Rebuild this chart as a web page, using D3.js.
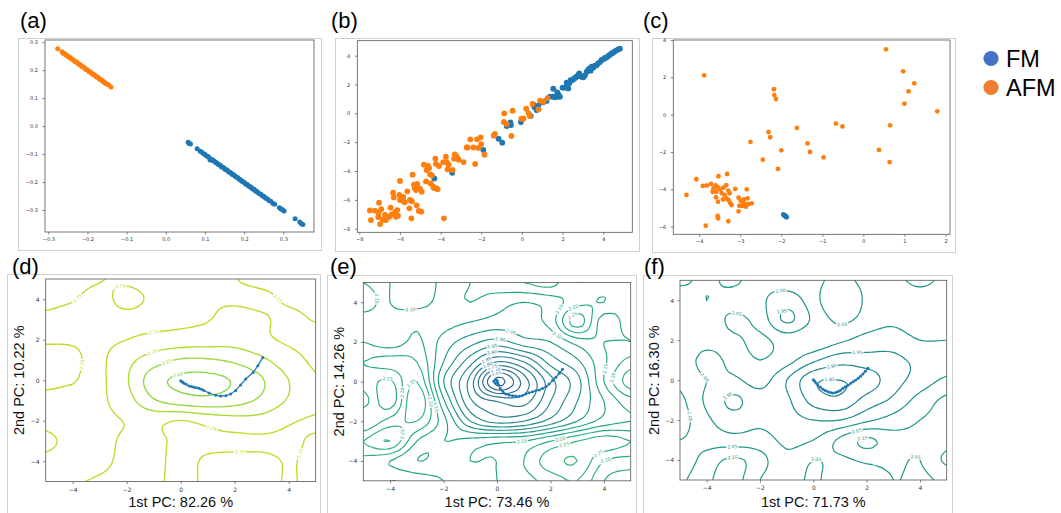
<!DOCTYPE html>
<html>
<head>
<meta charset="utf-8">
<script src="https://cdn.jsdelivr.net/npm/d3@7"></script>
<style>
  body { margin: 0; background: #fff; }
  svg { display: block; }
</style>
</head>
<body>
<div id="chart"></div>
<script>
// ---------- data ----------
var ticksA = [-0.3, -0.2, -0.1, 0.0, 0.1, 0.2, 0.3];
var ticksB = [-8, -6, -4, -2, 0, 2, 4];
var ticksCx = [-4, -3, -2, -1, 0, 1, 2];
var ticksCy = [-6, -4, -2, 0, 2, 4];
var ticksPC = [-4, -2, 0, 2, 4];

var legendNames = ["FM", "AFM"];
var panelNames = ["(a)", "(b)", "(c)", "(d)", "(e)", "(f)"];

var aFM = [[0.057,-0.058],[0.060,-0.062],[0.063,-0.064],[0.080,-0.081],[0.088,-0.090],[0.092,-0.093],[0.097,-0.099],[0.100,-0.101],[0.104,-0.107],[0.108,-0.109],[0.112,-0.115],[0.113,-0.121],[0.115,-0.118],[0.118,-0.122],[0.120,-0.121],[0.124,-0.126],[0.127,-0.130],[0.130,-0.131],[0.133,-0.136],[0.136,-0.138],[0.139,-0.140],[0.142,-0.145],[0.145,-0.147],[0.148,-0.149],[0.151,-0.154],[0.154,-0.156],[0.157,-0.158],[0.160,-0.163],[0.163,-0.165],[0.166,-0.167],[0.169,-0.172],[0.172,-0.174],[0.175,-0.176],[0.178,-0.181],[0.181,-0.183],[0.184,-0.185],[0.187,-0.190],[0.190,-0.191],[0.193,-0.195],[0.196,-0.199],[0.199,-0.200],[0.202,-0.204],[0.205,-0.208],[0.208,-0.209],[0.211,-0.213],[0.214,-0.217],[0.217,-0.218],[0.220,-0.222],[0.223,-0.226],[0.226,-0.227],[0.229,-0.232],[0.232,-0.233],[0.235,-0.237],[0.239,-0.242],[0.243,-0.244],[0.247,-0.250],[0.251,-0.252],[0.255,-0.258],[0.259,-0.260],[0.263,-0.266],[0.268,-0.269],[0.273,-0.276],[0.278,-0.279],[0.290,-0.292],[0.294,-0.296],[0.298,-0.299],[0.302,-0.304],[0.330,-0.331],[0.342,-0.343],[0.346,-0.349],[0.350,-0.352]];
var aAFM = [[-0.276,0.277],[-0.265,0.266],[-0.262,0.261],[-0.259,0.260],[-0.256,0.255],[-0.253,0.254],[-0.250,0.249],[-0.247,0.248],[-0.244,0.245],[-0.241,0.240],[-0.238,0.239],[-0.235,0.236],[-0.232,0.231],[-0.229,0.230],[-0.226,0.227],[-0.223,0.222],[-0.220,0.221],[-0.217,0.218],[-0.214,0.213],[-0.211,0.212],[-0.208,0.209],[-0.205,0.204],[-0.202,0.203],[-0.199,0.200],[-0.196,0.195],[-0.193,0.194],[-0.190,0.191],[-0.187,0.186],[-0.184,0.185],[-0.181,0.182],[-0.178,0.177],[-0.175,0.176],[-0.172,0.173],[-0.169,0.168],[-0.166,0.167],[-0.163,0.164],[-0.160,0.159],[-0.157,0.158],[-0.154,0.153],[-0.150,0.151],[-0.146,0.147],[-0.140,0.140]];

var bAFM = [[-7.48,-6.73],[-7.43,-7.40],[-7.23,-6.75],[-7.03,-6.20],[-7.05,-6.87],[-7.07,-7.19],[-6.98,-7.68],[-6.92,-6.64],[-6.84,-7.38],[-6.74,-7.05],[-6.69,-7.40],[-6.52,-7.17],[-6.46,-6.54],[-6.41,-7.01],[-6.34,-5.50],[-6.30,-5.83],[-6.23,-6.84],[-6.20,-7.17],[-6.13,-6.71],[-6.10,-7.10],[-6.03,-5.66],[-6.00,-4.69],[-6.00,-6.01],[-5.90,-6.01],[-5.84,-5.80],[-5.82,-6.10],[-5.77,-6.17],[-5.64,-5.41],[-5.54,-6.59],[-5.51,-6.01],[-5.44,-7.28],[-5.41,-6.10],[-5.38,-4.25],[-5.31,-4.95],[-5.28,-5.20],[-5.21,-5.32],[-5.18,-6.38],[-5.15,-4.90],[-5.08,-6.77],[-5.02,-5.23],[-4.95,-6.82],[-4.93,-5.43],[-4.82,-3.56],[-4.72,-4.72],[-4.69,-3.93],[-4.62,-3.65],[-4.57,-3.79],[-4.52,-4.23],[-4.49,-4.86],[-4.43,-4.30],[-4.36,-5.09],[-4.33,-5.18],[-4.26,-3.14],[-4.23,-3.51],[-4.20,-5.20],[-4.15,-5.27],[-4.08,-3.65],[-3.87,-3.38],[-3.84,-7.28],[-3.74,-3.01],[-3.70,-3.38],[-3.66,-3.88],[-3.61,-3.56],[-3.41,-3.93],[-3.34,-3.14],[-3.30,-2.84],[-3.21,-3.01],[-3.11,-3.21],[-2.87,-3.38],[-2.72,-2.36],[-2.67,-2.36],[-2.54,-1.80],[-2.39,-2.36],[-2.30,-3.51],[-2.21,-1.80],[-2.15,-2.40],[-2.03,-1.66],[-2.00,-2.13],[-1.84,-2.87],[-1.39,-1.55],[-1.33,-1.43],[-0.87,0.00],[-0.89,-0.60],[-0.75,-0.74],[-0.52,-1.57],[-0.46,0.18],[-0.03,-0.37],[0.08,-0.35],[0.21,0.32],[0.33,0.00],[0.39,-0.18],[0.52,0.65],[0.82,0.28],[0.89,0.88],[1.05,0.79],[1.26,1.06]];
var bFM = [[-4.31,-4.51],[-3.43,-4.12],[-1.90,-2.54],[-1.15,-1.76],[-0.97,-2.03],[-0.75,-0.88],[-0.57,-0.62],[-0.54,-0.81],[-0.05,-0.60],[0.43,-0.18],[0.56,0.62],[0.62,0.42],[0.72,0.23],[0.80,0.53],[1.02,0.76],[1.08,0.83],[1.21,0.86],[1.38,1.16],[1.54,1.71],[1.54,1.16],[1.62,1.11],[1.74,1.46],[1.77,1.16],[1.79,1.32],[1.87,1.16],[2.00,1.78],[2.11,1.78],[2.20,2.13],[2.23,1.97],[2.28,1.73],[2.33,2.08],[2.39,2.31],[2.49,2.31],[2.56,2.40],[2.62,2.47],[2.69,2.54],[2.77,2.66],[2.82,2.77],[2.85,2.59],[2.93,2.54],[3.02,2.50],[3.10,2.64],[3.18,2.87],[3.26,3.01],[3.31,3.10],[3.38,2.96],[3.43,3.24],[3.51,3.17],[3.59,3.31],[3.67,3.33],[3.75,3.47],[3.84,3.56],[3.92,3.70],[4.00,3.75],[4.08,3.84],[4.16,3.88],[4.25,3.98],[4.33,4.07],[4.41,4.16],[4.49,4.21],[4.57,4.30],[4.66,4.37],[4.74,4.44],[4.82,4.49]];

var cAFM = [[0.55,3.50],[-3.88,2.11],[-2.18,1.36],[-2.17,1.05],[-2.13,0.84],[0.97,2.32],[1.24,1.68],[1.10,1.25],[1.00,0.59],[1.80,0.18],[-0.67,-0.48],[-0.51,-0.63],[0.65,-0.57],[-1.62,-0.71],[-2.31,-0.93],[-2.27,-1.21],[-2.75,-1.46],[-1.36,-1.54],[-1.30,-2.00],[-2.00,-1.91],[-0.97,-2.29],[0.38,-1.89],[0.64,-2.54],[-2.45,-2.41],[-2.08,-2.91],[-3.32,-3.18],[-3.53,-3.30],[-4.07,-3.46],[-4.31,-4.30],[-3.91,-3.82],[-3.81,-3.79],[-3.71,-3.71],[-3.60,-3.79],[-3.55,-3.88],[-3.65,-3.95],[-3.67,-4.13],[-3.58,-4.13],[-3.49,-4.00],[-3.41,-3.91],[-3.34,-3.77],[-3.45,-4.21],[-3.38,-4.30],[-3.29,-4.07],[-3.26,-4.21],[-3.59,-4.43],[-3.54,-4.66],[-3.42,-4.54],[-3.34,-4.48],[-3.29,-4.57],[-3.25,-4.71],[-3.21,-4.84],[-3.12,-3.98],[-3.04,-4.45],[-2.99,-4.61],[-3.02,-4.88],[-3.04,-5.18],[-2.96,-4.89],[-2.93,-4.71],[-2.91,-4.54],[-2.88,-4.79],[-2.86,-4.93],[-2.84,-4.00],[-2.82,-4.48],[-2.79,-4.79],[-2.72,-4.75],[-3.55,-5.43],[-3.54,-5.55],[-3.84,-5.95],[-3.29,-5.71]];
var cFM = [[-1.95,-5.35],[-1.93,-5.40],[-1.92,-5.38],[-1.91,-5.42],[-1.90,-5.45],[-1.89,-5.44],[-1.88,-5.47],[-1.87,-5.50]];

// loss landscapes: rows run from y = 5 (top) to y = -5, columns x = -5 .. 5
var gridX = [-5, -4, -3, -2, -1, 0, 1, 2, 3, 4, 5];
var gridY = [5, 4, 3, 2, 1, 0, -1, -2, -3, -4, -5];

var dLevels = [2.60, 2.65, 2.70, 2.75];
var dLoss = [
  [2.735,2.738,2.748,2.757,2.765,2.768,2.762,2.751,2.742,2.736,2.733],
  [2.742,2.748,2.762,2.738,2.757,2.758,2.753,2.755,2.757,2.745,2.738],
  [2.755,2.762,2.766,2.762,2.765,2.758,2.752,2.735,2.745,2.758,2.748],
  [2.752,2.753,2.758,2.750,2.735,2.730,2.725,2.720,2.740,2.757,2.762],
  [2.742,2.744,2.757,2.715,2.675,2.645,2.645,2.660,2.690,2.730,2.758],
  [2.745,2.748,2.758,2.705,2.620,2.590,2.585,2.605,2.645,2.700,2.745],
  [2.755,2.760,2.758,2.720,2.655,2.625,2.615,2.630,2.660,2.705,2.735],
  [2.756,2.762,2.760,2.748,2.738,2.752,2.735,2.720,2.720,2.745,2.755],
  [2.745,2.757,2.758,2.745,2.742,2.758,2.757,2.760,2.758,2.757,2.745],
  [2.755,2.760,2.755,2.745,2.743,2.758,2.745,2.738,2.740,2.752,2.742],
  [2.757,2.752,2.748,2.745,2.745,2.757,2.745,2.738,2.740,2.752,2.742]
];
var dPath = [[0,-0.02],[0.04,-0.07],[0.08,-0.10],[0.12,-0.15],[0.20,-0.20],[0.31,-0.28],[0.40,-0.31],[0.49,-0.34],[0.58,-0.37],[0.68,-0.40],[0.77,-0.45],[0.86,-0.51],[1.05,-0.63],[1.30,-0.74],[1.48,-0.78],[1.67,-0.76],[1.85,-0.68],[2.04,-0.50],[2.22,-0.23],[2.41,0.06],[2.68,0.38],[2.86,0.72],[3.04,1.12]];

var eLevels = [1.60, 1.65, 1.70, 1.75, 1.80, 1.85, 1.90, 1.95, 2.00, 2.05, 2.10, 2.15, 2.20, 2.25, 2.30];
var eLoss = [
  [2.15,2.10,2.05,2.12,2.15,2.18,2.20,2.22,2.15,2.18,2.20],
  [2.20,2.10,2.08,2.12,2.15,2.12,2.10,2.12,2.18,2.20,2.15],
  [2.10,2.12,2.14,2.12,2.10,2.08,2.08,2.12,2.28,2.12,2.18],
  [2.15,2.12,2.16,2.08,2.02,1.98,2.03,2.05,2.12,2.15,2.15],
  [2.20,2.22,2.20,2.05,1.92,1.80,1.85,1.97,2.04,2.14,2.22],
  [2.18,2.14,2.25,2.00,1.83,1.58,1.72,1.88,1.98,2.15,2.28],
  [2.22,2.12,2.30,2.06,1.86,1.80,1.78,1.90,2.00,2.10,2.18],
  [2.15,2.22,2.25,2.12,1.95,1.88,1.90,1.97,2.05,2.12,2.15],
  [2.25,2.30,2.15,2.10,2.12,2.14,2.15,2.20,2.25,2.28,2.25],
  [2.18,2.15,2.10,2.12,2.15,2.15,2.20,2.28,2.30,2.20,2.18],
  [2.15,2.20,2.18,2.15,2.12,2.15,2.18,2.22,2.25,2.15,2.12]
];
var ePath = [[-0.05,0.10],[-0.12,0.02],[-0.06,-0.08],[0.02,-0.05],[0.00,0.05],[0.05,-0.15],[0.12,-0.35],[0.22,-0.50],[0.33,-0.62],[0.45,-0.68],[0.58,-0.71],[0.70,-0.73],[0.83,-0.74],[0.95,-0.70],[1.08,-0.62],[1.20,-0.56],[1.33,-0.51],[1.45,-0.46],[1.58,-0.42],[1.70,-0.35],[1.83,-0.26],[1.95,-0.12],[2.08,0.05],[2.20,0.22],[2.33,0.42],[2.45,0.62]];

var fLevels = [1.85, 1.90, 1.95, 2.00, 2.05, 2.10];
var fLoss = [
  [2.06,2.04,2.06,2.02,2.03,2.04,2.06,2.04,2.04,2.06,2.04],
  [2.02,2.05,2.03,2.01,1.97,2.03,2.10,2.04,2.01,2.03,2.01],
  [2.03,2.02,2.06,2.03,1.94,2.01,2.06,2.03,2.01,2.04,2.02],
  [2.05,2.02,2.04,2.06,2.03,2.04,2.01,1.98,1.97,2.00,2.00],
  [2.04,1.98,2.02,2.05,2.02,1.96,1.92,1.93,1.94,1.96,1.97],
  [2.04,2.00,1.99,2.02,1.95,1.86,1.85,1.87,1.93,1.97,2.01],
  [2.06,1.99,1.94,1.98,1.96,1.88,1.86,1.92,1.96,2.02,2.06],
  [2.07,2.01,1.97,1.99,1.97,1.95,1.95,1.99,2.02,2.05,2.06],
  [2.05,2.03,2.02,2.02,1.99,2.00,2.06,2.11,2.07,2.06,2.08],
  [2.02,2.07,2.11,2.07,2.01,2.05,2.04,2.06,2.06,2.05,2.11],
  [2.04,2.09,2.12,2.05,2.02,2.06,2.01,2.01,2.05,2.04,2.06]
];
var fPath = [[0.00,0.02],[0.05,-0.06],[0.10,-0.14],[0.17,-0.25],[0.26,-0.36],[0.36,-0.45],[0.45,-0.52],[0.55,-0.58],[0.65,-0.62],[0.74,-0.64],[0.84,-0.62],[0.93,-0.57],[1.02,-0.50],[1.11,-0.41],[1.20,-0.33],[1.30,-0.25],[1.40,-0.16],[1.49,-0.08],[1.58,0.00],[1.68,0.09],[1.77,0.20],[1.86,0.31],[1.95,0.44],[2.05,0.60]];

var pcLabels = {
  d: ["1st PC: 82.26 %", "2nd PC: 10.22 %"],
  e: ["1st PC: 73.46 %", "2nd PC: 14.26 %"],
  f: ["1st PC: 71.73 %", "2nd PC: 16.30 %"]
};

// ---------- drawing ----------
var blue = "#1f77b4", orange = "#ff7f0e";
var lossColor = function(v) { return d3.interpolateViridis((v - 1.0) / 1.95); };

var svg = d3.select("#chart").append("svg")
    .attr("width", 1061)
    .attr("height", 513)
    .style("font-family", "'Liberation Sans', Arial, sans-serif");

var defs = svg.append("defs");

// light frames around each sub-figure
[[18, 38, 303, 212], [335, 38, 304, 213], [652, 38, 303, 214],
 [7, 274, 313, 260], [327, 275, 309, 260], [643, 275, 309, 260]].forEach(function(r) {
    svg.append("rect")
        .attr("x", r[0] + 0.5).attr("y", r[1] + 0.5)
        .attr("width", r[2]).attr("height", r[3])
        .attr("fill", "none").attr("stroke", "#d0d0d0").attr("stroke-width", 1);
});

function makeAxes(box, xd, yd, xt, yt, fmt, fs) {
    var sx = d3.scaleLinear().domain(xd).range([box[0], box[2]]);
    var sy = d3.scaleLinear().domain(yd).range([box[3], box[1]]);

    var gx = svg.append("g")
        .attr("transform", "translate(0," + box[3] + ")")
        .call(d3.axisBottom(sx).tickValues(xt).tickFormat(fmt).tickSize(2.5).tickPadding(fs > 5.5 ? 3.5 : 3));
    var gy = svg.append("g")
        .attr("transform", "translate(" + box[0] + ",0)")
        .call(d3.axisLeft(sy).tickValues(yt).tickFormat(fmt).tickSize(2.5).tickPadding(fs > 5.5 ? 3.5 : 4.5));

    [gx, gy].forEach(function(g) {
        g.select(".domain").remove();
        g.attr("font-family", null).attr("font-size", null);
        g.selectAll("text")
            .attr("font-size", fs)
            .attr("fill", "#333")
            .style("font-family", "'DejaVu Sans', sans-serif");
        g.selectAll("line").attr("stroke", "#333").attr("stroke-width", 0.6);
    });
    return {sx: sx, sy: sy, box: box};
}

function drawSpines(ax) {
    var b = ax.box;
    svg.append("rect")
        .attr("x", b[0]).attr("y", b[1])
        .attr("width", b[2] - b[0]).attr("height", b[3] - b[1])
        .attr("fill", "none").attr("stroke", "#555").attr("stroke-width", 0.8);
}

function scatter(ax, pts, color, r) {
    svg.append("g").selectAll("circle")
        .data(pts)
        .enter().append("circle")
        .attr("cx", function(d) { return ax.sx(d[0]); })
        .attr("cy", function(d) { return ax.sy(d[1]); })
        .attr("r", r)
        .attr("fill", color);
}

var fmt1 = d3.format(".1f"), fmt0 = d3.format("d");

// (a)
var axA = makeAxes([45, 40, 314, 232], [-0.3084, 0.3783], [-0.3787, 0.3082], ticksA, ticksA, fmt1, 5);
scatter(axA, aFM, blue, 2.5);
scatter(axA, aAFM, orange, 2.5);
drawSpines(axA);

// (b)
var axB = makeAxes([357.3, 40.7, 632.3, 232.3], [-8.1, 5.43], [-8.25, 5.04], ticksB, ticksB, fmt0, 5);
scatter(axB, bFM, blue, 2.9);
scatter(axB, bAFM, orange, 2.9);
drawSpines(axB);

// (c)
var axC = makeAxes([673.3, 40, 950, 234.3], [-4.63, 2.11], [-6.41, 4.0], ticksCx, ticksCy, fmt0, 5);
scatter(axC, cFM, blue, 2.4);
scatter(axC, cAFM, orange, 2.4);
drawSpines(axC);

// smooth (bicubic) resampling of a loss grid, only used for drawing the isolines
function refine(grid, f) {
    var n = grid[0].length, m = grid.length;
    var N = (n - 1) * f + 1, M = (m - 1) * f + 1;
    var at = function(i, j) {
        i = Math.max(0, Math.min(n - 1, i));
        j = Math.max(0, Math.min(m - 1, j));
        return grid[j][i];
    };
    var cub = function(p0, p1, p2, p3, t) {
        return p1 + 0.5 * t * (p2 - p0 + t * (2 * p0 - 5 * p1 + 4 * p2 - p3 + t * (3 * (p1 - p2) + p3 - p0)));
    };
    var out = new Array(N * M);
    for (var j = 0; j < M; j++) {
        var v = j / f, j0 = Math.min(m - 2, Math.floor(v)), ty = v - j0;
        for (var i = 0; i < N; i++) {
            var u = i / f, i0 = Math.min(n - 2, Math.floor(u)), tx = u - i0;
            var rows = [];
            for (var k = -1; k <= 2; k++) {
                rows.push(cub(at(i0 - 1, j0 + k), at(i0, j0 + k), at(i0 + 1, j0 + k), at(i0 + 2, j0 + k), tx));
            }
            out[j * N + i] = cub(rows[0], rows[1], rows[2], rows[3], ty);
        }
    }
    return {values: out, n: N, m: M};
}

function drawLandscape(ax, loss, levels, path, id, lw) {
    var f = 5;
    var fine = refine(loss, f);
    var n = fine.n, m = fine.m;
    var stepX = (gridX[1] - gridX[0]) / f, stepY = (gridY[1] - gridY[0]) / f;
    var b = ax.box;

    defs.append("clipPath").attr("id", id)
        .append("rect")
        .attr("x", b[0]).attr("y", b[1])
        .attr("width", b[2] - b[0]).attr("height", b[3] - b[1]);

    var g = svg.append("g").attr("clip-path", "url(#" + id + ")");
    var toPx = function(p) {
        return [ax.sx(gridX[0] + (p[0] - 0.5) * stepX), ax.sy(gridY[0] + (p[1] - 0.5) * stepY)];
    };
    var eps = 1e-6;
    var inside = function(p) {
        return p[0] >= 0.5 - eps && p[0] <= n - 0.5 + eps && p[1] >= 0.5 - eps && p[1] <= m - 0.5 + eps;
    };
    var openLine = d3.line().curve(d3.curveBasis);
    var closedLine = d3.line().curve(d3.curveBasisClosed);
    var runs = [];

    var contours = d3.contours().size([n, m]).thresholds(levels)(fine.values);
    contours.forEach(function(c) {
        c.coordinates.forEach(function(poly) {
            poly.forEach(function(ring) {
                var pts = ring.slice(0, -1);
                var k = pts.findIndex(function(p) { return !inside(p); });
                if (k < 0) {
                    runs.push({pts: pts.map(toPx), closed: true, value: c.value});
                    return;
                }
                var rot = pts.slice(k).concat(pts.slice(0, k));
                var cur = [];
                rot.forEach(function(p) {
                    if (inside(p)) cur.push(toPx(p));
                    else {
                        if (cur.length > 1) runs.push({pts: cur, closed: false, value: c.value});
                        cur = [];
                    }
                });
                if (cur.length > 1) runs.push({pts: cur, closed: false, value: c.value});
            });
        });
    });

    runs.forEach(function(r) {
        g.append("path")
            .attr("d", (r.closed ? closedLine : openLine)(r.pts))
            .attr("fill", "none")
            .attr("stroke", lossColor(r.value))
            .attr("stroke-width", lw);
    });

    // inline contour labels
    runs.forEach(function(r) {
        var p = r.pts, len = [0];
        for (var i = 1; i < p.length; i++) {
            len.push(len[i - 1] + Math.hypot(p[i][0] - p[i - 1][0], p[i][1] - p[i - 1][1]));
        }
        var total = len[len.length - 1];
        if (total < 40) return;
        var target = total * 0.5, j = 1;
        while (j < p.length - 1 && len[j] < target) j++;
        var a = p[Math.max(0, j - 2)], c = p[Math.min(p.length - 1, j + 1)];
        var t = (target - len[j - 1]) / Math.max(1e-9, len[j] - len[j - 1]);
        var x = p[j - 1][0] + t * (p[j][0] - p[j - 1][0]);
        var y = p[j - 1][1] + t * (p[j][1] - p[j - 1][1]);
        var ang = Math.atan2(c[1] - a[1], c[0] - a[0]) * 180 / Math.PI;
        if (ang > 90) ang -= 180;
        if (ang < -90) ang += 180;
        g.append("text")
            .attr("transform", "translate(" + x + "," + y + ") rotate(" + ang + ")")
            .attr("text-anchor", "middle")
            .attr("dy", "0.35em")
            .attr("font-size", 4.6)
            .style("font-family", "'DejaVu Sans', sans-serif")
            .attr("fill", lossColor(r.value))
            .attr("stroke", "#fff")
            .attr("stroke-width", 2.4)
            .attr("paint-order", "stroke")
            .text(r.value.toFixed(2));
    });

    // optimisation trajectory
    g.append("path")
        .attr("d", d3.line().x(function(d) { return ax.sx(d[0]); }).y(function(d) { return ax.sy(d[1]); })(path))
        .attr("fill", "none")
        .attr("stroke", blue)
        .attr("stroke-width", 1.2);
    g.selectAll("circle.step")
        .data(path)
        .enter().append("circle")
        .attr("class", "step")
        .attr("cx", function(d) { return ax.sx(d[0]); })
        .attr("cy", function(d) { return ax.sy(d[1]); })
        .attr("r", 1.5)
        .attr("fill", blue);
}

function pcTitles(ax, labels, yx) {
    var b = ax.box;
    svg.append("text")
        .attr("x", (b[0] + b[2]) / 2).attr("y", 507)
        .attr("text-anchor", "middle")
        .attr("font-size", 14.5)
        .attr("fill", "#111")
        .text(labels[0]);
    svg.append("text")
        .attr("transform", "translate(" + yx + "," + ((b[1] + b[3]) / 2) + ") rotate(-90)")
        .attr("text-anchor", "middle")
        .attr("font-size", 14.5)
        .attr("fill", "#111")
        .text(labels[1]);
}

var axD = makeAxes([45.7, 279, 315.7, 481.5], [-5, 5], [-5, 5], ticksPC, ticksPC, fmt0, 6);
drawLandscape(axD, dLoss, dLevels, dPath, "clipD", 1.35);
drawSpines(axD);
pcTitles(axD, pcLabels.d, 24);

var axE = makeAxes([363.3, 282.4, 630.7, 480.8], [-5, 5], [-5, 5], ticksPC, ticksPC, fmt0, 6);
drawLandscape(axE, eLoss, eLevels, ePath, "clipE", 1.15);
drawSpines(axE);
pcTitles(axE, pcLabels.e, 343.5);

var axF = makeAxes([680, 280.3, 946.7, 480], [-5, 5], [-5, 5], ticksPC, ticksPC, fmt0, 6);
drawLandscape(axF, fLoss, fLevels, fPath, "clipF", 1.2);
drawSpines(axF);
pcTitles(axF, pcLabels.f, 659);

// panel letters
[[20, 28], [331, 28], [643, 28], [12, 274], [330, 274], [644, 274]].forEach(function(p, i) {
    svg.append("text")
        .attr("x", p[0]).attr("y", p[1])
        .attr("font-size", 22)
        .attr("fill", "#000")
        .text(panelNames[i]);
});

// legend
var legendColors = ["#4472c4", "#ed7d31"];
legendNames.forEach(function(name, i) {
    svg.append("circle")
        .attr("cx", 991).attr("cy", 58.5 + i * 29)
        .attr("r", 7.6)
        .attr("fill", legendColors[i]);
    svg.append("text")
        .attr("x", 1006).attr("y", 67 + i * 29)
        .attr("font-size", 23.5)
        .attr("fill", "#000")
        .text(name);
});
</script>
</body>
</html>
